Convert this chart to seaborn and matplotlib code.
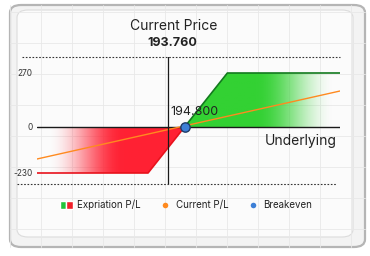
import matplotlib
matplotlib.use("Agg")
import numpy as np
import pandas as pd
import seaborn as sns
import matplotlib.pyplot as plt
from matplotlib.patches import FancyBboxPatch, Patch, Polygon
from matplotlib.lines import Line2D
from matplotlib.legend_handler import HandlerTuple

# ---- data ----
exp_x = [185.5, 192.5, 197.5, 204.6]        # underlying price
exp_pl = [-230, -230, 270, 270]             # expiration P/L
cur_x = [185.5, 204.6]
cur_pl = [-160, 180]                         # current P/L
current_price = 193.76
breakeven = 194.80
ytick_vals = [-230, 0, 270]
ytick_labels = ["-230", "0", "270"]
legend_labels = ["Expriation P/L", "Current P/L", "Breakeven"]

sns.set_theme(style="white")
plt.rcParams["font.family"] = ["Inter", "DejaVu Sans"]

W, H = 370, 256
fig = plt.figure(figsize=(W / 100, H / 100), dpi=100)
fig.patch.set_facecolor("white")

def px(x, y):
    return x / W, 1 - y / H

# card background
outer = FancyBboxPatch(px(10, 247), 355 / W, 242 / H, boxstyle="round,pad=0,rounding_size=0.03",
                       transform=fig.transFigure, facecolor="#f3f3f3", edgecolor="#b5b5b5",
                       linewidth=1.6, zorder=-3)
fig.add_artist(outer)
inner = FancyBboxPatch(px(17, 237), 336 / W, 227 / H, boxstyle="round,pad=0,rounding_size=0.03",
                       transform=fig.transFigure, facecolor="#fbfbfb", edgecolor="#dcdcdc",
                       linewidth=0.8, zorder=-2)
fig.add_artist(inner)
for gx in np.arange(10, 366, 31):
    fig.add_artist(Line2D([gx / W, gx / W], [1 - 247 / H, 1 - 5 / H], transform=fig.transFigure,
                          color="#e8e8e8", lw=0.6, zorder=-1))
for gy in np.arange(12, 248, 31):
    fig.add_artist(Line2D([10 / W, 365 / W], [1 - gy / H, 1 - gy / H], transform=fig.transFigure,
                          color="#e8e8e8", lw=0.6, zorder=-1))

ax = fig.add_axes([37 / W, 1 - 184 / H, 303 / W, 127 / H])
ax.set_facecolor("none")
ax.set_xlim(exp_x[0], exp_x[-1])
ax.set_ylim(-285, 350)
for s in ax.spines.values():
    s.set_visible(False)

# gradient fills
xs = np.linspace(exp_x[0], exp_x[-1], 600)
pl = np.interp(xs, exp_x, exp_pl)

def grad_fill(mask, rgb, a_of_x):
    xm = xs[mask]
    ym = pl[mask]
    verts = np.column_stack([np.r_[xm, xm[::-1]], np.r_[ym, np.zeros_like(ym)]])
    poly = Polygon(verts, closed=True, facecolor="none", edgecolor="none", transform=ax.transData)
    ax.add_patch(poly)
    gx = np.linspace(xm[0], xm[-1], 300)
    alpha = a_of_x(gx)
    img = np.zeros((2, len(gx), 4))
    img[..., :3] = rgb
    img[..., 3] = alpha
    im = ax.imshow(img, extent=[xm[0], xm[-1], min(ym.min(), 0), max(ym.max(), 0)],
                   aspect="auto", origin="lower", zorder=1, interpolation="bilinear")
    im.set_clip_path(poly)

def smooth(t):
    t = np.clip(t, 0, 1)
    return t * t * (3 - 2 * t)

grad_fill(xs <= breakeven, (1.0, 0.13, 0.2), lambda x: smooth((x - 186.2) / (190.9 - 186.2)))
grad_fill(xs >= breakeven, (0.2, 0.82, 0.2), lambda x: smooth((204.2 - x) / (204.2 - 199.3)))

# lines via seaborn
df_exp = pd.DataFrame({"x": exp_x, "pl": exp_pl})
loss = df_exp[df_exp.pl <= 0].copy()
loss = pd.concat([loss, pd.DataFrame({"x": [breakeven], "pl": [0]})])
gain = pd.concat([pd.DataFrame({"x": [breakeven], "pl": [0]}), df_exp[df_exp.pl > 0]])
ax.axhline(0, color="#1a1a1a", lw=1.0, zorder=2)
sns.lineplot(data=loss, x="x", y="pl", color="#e8121c", lw=1.2, ax=ax, zorder=3, sort=True)
sns.lineplot(data=gain, x="x", y="pl", color="#137a1e", lw=1.2, ax=ax, zorder=3, sort=True)
sns.lineplot(x=cur_x, y=cur_pl, color="#ff8a1f", lw=1.0, ax=ax, zorder=4)
ax.axvline(current_price, color="#1a1a1a", lw=0.9, zorder=4)
sns.scatterplot(x=[breakeven], y=[0], s=45, color="#3d7fd6", edgecolor="#1e3a66",
                linewidth=1.0, ax=ax, zorder=6)

# dotted boundaries
ax.plot([-0.05, 1.0], [1, 1], transform=ax.transAxes, color="#333333", ls=(0, (1.5, 1.5)),
        lw=0.8, clip_on=False)
ax.plot([-0.066, 0.99], [0, 0], transform=ax.transAxes, color="#333333", ls=(0, (1.5, 1.5)),
        lw=0.8, clip_on=False)

ax.set_yticks(ytick_vals)
ax.set_yticklabels(ytick_labels)
ax.set_xticks([])
ax.tick_params(axis="y", length=0, pad=3, labelsize=6, labelcolor="#333333")
ax.set_xlabel("")
ax.set_ylabel("")

ax.annotate(f"{breakeven:.3f}", (breakeven, 0), xytext=(10, 15), textcoords="offset pixels",
            ha="center", va="center", fontsize=9, color="#222222", zorder=7)
ax.text(0.99, -70, "Underlying", transform=ax.get_yaxis_transform(), ha="right", va="center",
        fontsize=10, color="#222222")

fig.text(*px(174, 26), "Current Price", ha="center", va="center", fontsize=10, color="#222222")
fig.text(*px(172, 43), f"{current_price:.3f}", ha="center", va="center", fontsize=9,
         fontweight="bold", color="#222222")

handles = [(Patch(facecolor="#22c33a"), Patch(facecolor="#f0202a")),
           Line2D([], [], marker="o", color="none", markerfacecolor="#ff8a1f",
                  markeredgecolor="none", markersize=4),
           Line2D([], [], marker="o", color="none", markerfacecolor="#3d7fd6",
                  markeredgecolor="none", markersize=4)]
fig.legend(handles, legend_labels, handler_map={tuple: HandlerTuple(ndivide=None, pad=0)},
           loc="center", bbox_to_anchor=px(186, 205), ncol=3, frameon=False, fontsize=7,
           handlelength=1.4, handleheight=0.8, handletextpad=0.4, columnspacing=1.8,
           labelcolor="#222222")

fig.savefig("out.png", dpi=100)
